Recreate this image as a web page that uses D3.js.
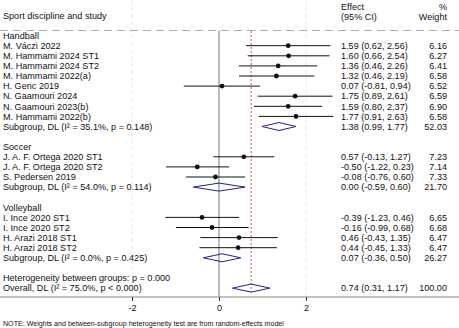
<!DOCTYPE html>
<html>
<head>
<meta charset="utf-8">
<script src="https://cdn.jsdelivr.net/npm/d3@7"></script>
<style>
  body { margin: 0; background: #fff; }
  text { font-family: "Liberation Sans", Arial, sans-serif; fill: #111; }
</style>
</head>
<body>
<div class="graph"></div>
<script>
// row labels, top to bottom (blank rows are "")
const labels = [
  "Handball", "M. Váczi 2022", "M. Hammami 2024 ST1", "M. Hammami 2024 ST2",
  "M. Hammami 2022(a)", "H. Genc 2019", "N. Gaamouri 2024", "N. Gaamouri 2023(b)",
  "M. Hammami 2022(b)", "Subgroup, DL (I\u00B2 = 35.1%, p = 0.148)", "",
  "Soccer", "J. A. F. Ortega 2020 ST1", "J. A. F. Ortega 2020 ST2", "S. Pedersen 2019",
  "Subgroup, DL (I\u00B2 = 54.0%, p = 0.114)", "",
  "Volleyball", "I. Ince 2020 ST1", "I. Ince 2020 ST2", "H. Arazi 2018 ST1", "H. Arazi 2018 ST2",
  "Subgroup, DL (I\u00B2 = 0.0%, p = 0.425)", "",
  "Heterogeneity between groups: p = 0.000", "Overall, DL (I\u00B2 = 75.0%, p < 0.000)"
]
// row type: h = header, s = study, d = diamond (subgroup / overall), b = blank / text only
const kinds = ["h","s","s","s","s","s","s","s","s","d","b",
               "h","s","s","s","d","b",
               "h","s","s","s","s","d","b",
               "b","d"]
const est = [null,1.59,1.60,1.36,1.32,0.07,1.75,1.59,1.77,1.38,null,
             null,0.57,-0.50,-0.08,0.00,null,
             null,-0.39,-0.16,0.46,0.44,0.07,null,
             null,0.74]
const lo = [null,0.62,0.66,0.46,0.46,-0.81,0.89,0.80,0.91,0.99,null,
            null,-0.13,-1.22,-0.76,-0.59,null,
            null,-1.23,-0.99,-0.43,-0.45,-0.36,null,
            null,0.31]
const hi = [null,2.56,2.54,2.26,2.19,0.94,2.61,2.37,2.63,1.77,null,
            null,1.27,0.23,0.60,0.60,null,
            null,0.46,0.68,1.35,1.33,0.50,null,
            null,1.17]
const weights = [null,6.16,6.27,6.41,6.58,6.52,6.59,6.90,6.58,52.03,null,
                 null,7.23,7.14,7.33,21.70,null,
                 null,6.65,6.68,6.47,6.47,26.27,null,
                 null,100.00]
const xTicks = [-2, 0, 2]
const overall = 0.74

const W = 459, H = 328
const svg = d3.select(".graph").append("svg").attr("width", W).attr("height", H)

const x = d3.scaleLinear().domain([-2, 2]).range([132, 306])
const y = d3.scaleLinear().domain([0, labels.length - 1]).range([35.6, 288.1])
const axisY = 297
const fs = 9.1

// faint grid lines at outer ticks
svg.selectAll(".grid").data(xTicks.filter(d => d != 0)).enter().append("line")
  .attr("x1", d => x(d)).attr("x2", d => x(d))
  .attr("y1", 0).attr("y2", axisY)
  .attr("stroke", "#e4e4e4").attr("stroke-width", 0.8).attr("stroke-dasharray", "4,3")

// header
svg.append("text").attr("x", 3).attr("y", 19).attr("font-size", fs).text("Sport discipline and study")
svg.append("text").attr("x", 341).attr("y", 10).attr("font-size", fs).text("Effect")
svg.append("text").attr("x", 341).attr("y", 19.5).attr("font-size", fs).text("(95% CI)")
svg.append("text").attr("x", 447).attr("y", 10).attr("font-size", fs).attr("text-anchor", "end").text("%")
svg.append("text").attr("x", 447).attr("y", 19.5).attr("font-size", fs).attr("text-anchor", "end").text("Weight")
svg.append("line").attr("x1", 0).attr("x2", W).attr("y1", 30.5).attr("y2", 30.5)
  .attr("stroke", "#999").attr("stroke-width", 0.8).attr("stroke-dasharray", "8,5")

// null line
svg.append("line").attr("x1", x(0)).attr("x2", x(0)).attr("y1", 30.5).attr("y2", axisY)
  .attr("stroke", "#777").attr("stroke-width", 1)

// overall line
svg.append("line").attr("x1", x(overall)).attr("x2", x(overall))
  .attr("y1", 31).attr("y2", y(labels.length - 1) + 4)
  .attr("stroke", "#b54a66").attr("stroke-width", 0.9).attr("stroke-dasharray", "2,2")

const rows = labels.map((l, i) => ({i: i, label: l, kind: kinds[i], est: est[i], lo: lo[i], hi: hi[i], w: weights[i]}))

// labels
svg.selectAll(".lab").data(rows).enter().append("text")
  .attr("x", 3).attr("y", d => y(d.i) + 3.2).attr("font-size", fs).text(d => d.label)

// CI lines + markers
const studies = rows.filter(d => d.kind == "s")
svg.selectAll(".ci").data(studies).enter().append("line")
  .attr("x1", d => x(d.lo)).attr("x2", d => x(d.hi))
  .attr("y1", d => y(d.i)).attr("y2", d => y(d.i))
  .attr("stroke", "#111").attr("stroke-width", 1)
svg.selectAll(".pt").data(studies).enter().append("circle")
  .attr("cx", d => x(d.est)).attr("cy", d => y(d.i)).attr("r", 2.4).attr("fill", "#111")

// diamonds
const dia = rows.filter(d => d.kind == "d")
svg.selectAll(".dia").data(dia).enter().append("path")
  .attr("d", d => {
    const c = y(d.i)
    return "M" + x(d.lo) + "," + c + "L" + x(d.est) + "," + (c - 4) + "L" + x(d.hi) + "," + c + "L" + x(d.est) + "," + (c + 4) + "Z"
  })
  .attr("fill", "none").attr("stroke", "#1f2585").attr("stroke-width", 1)

// effect and weight columns
const withEst = rows.filter(d => d.est != null)
svg.selectAll(".eff").data(withEst).enter().append("text")
  .attr("x", 341).attr("y", d => y(d.i) + 3.2).attr("font-size", fs)
  .text(d => d.est.toFixed(2) + " (" + d.lo.toFixed(2) + ", " + d.hi.toFixed(2) + ")")
svg.selectAll(".wt").data(withEst).enter().append("text")
  .attr("x", 447).attr("y", d => y(d.i) + 3.2).attr("font-size", fs).attr("text-anchor", "end")
  .text(d => d.w.toFixed(2))

// axis
svg.append("line").attr("x1", 0).attr("x2", W).attr("y1", axisY).attr("y2", axisY)
  .attr("stroke", "#888").attr("stroke-width", 1)
const g = svg.append("g").attr("transform", "translate(0," + axisY + ")")
  .call(d3.axisBottom(x).tickValues(xTicks).tickSize(4).tickFormat(d => String(d)))
g.select(".domain").remove()
g.selectAll(".tick line").attr("stroke", "#333")
g.selectAll(".tick text").attr("font-size", fs).attr("font-family", "Liberation Sans, Arial, sans-serif").attr("fill", "#111").attr("dy", "0.75em")

svg.append("text").attr("x", 3).attr("y", 326).attr("font-size", 7.1)
  .text("NOTE: Weights and between-subgroup heterogeneity test are from random-effects model")
</script>
</body>
</html>
